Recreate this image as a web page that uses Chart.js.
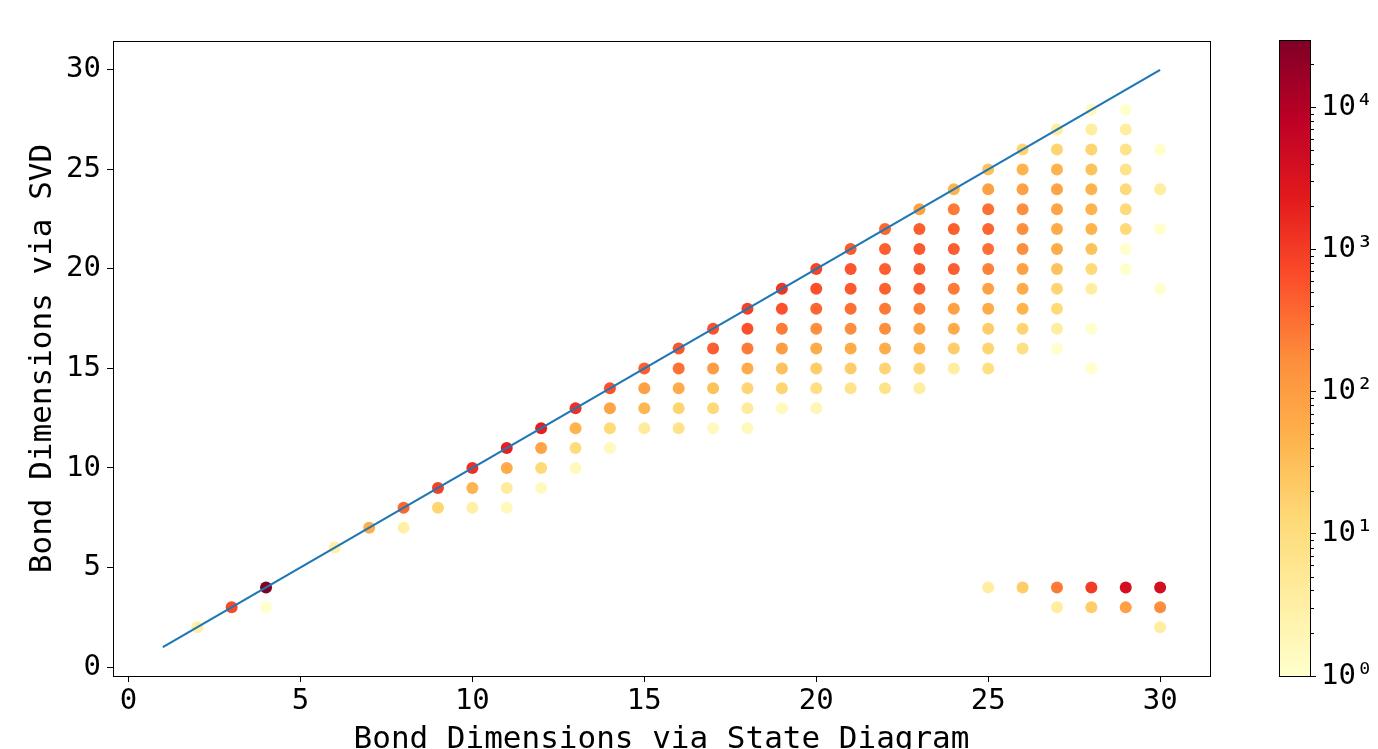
<!DOCTYPE html>
<html>
<head>
<meta charset="utf-8">
<script src="https://cdn.jsdelivr.net/npm/chart.js@4.4.1/dist/chart.umd.min.js"></script>
<style>
  body { margin: 0; background: #fff; }
  #wrap { position: relative; width: 1378px; height: 749px; overflow: hidden; }
  #main { position: absolute; left: 0; top: 0; }
  #cbar { position: absolute; left: 1279px; top: 0; }
</style>
</head>
<body>
<div id="wrap">
  <canvas id="main" width="1378" height="749"></canvas>
  <canvas id="cbar" width="99" height="749"></canvas>
</div>
<script>
// bond dimension via state diagram (x), via SVD (y), and how often each pair occurs
const sdDim = [
  2, 3, 4, 4, 6, 7, 8, 8, 9, 9,
  10, 10, 10, 11, 11, 11, 11, 12, 12, 12, 12,
  13, 13, 13, 13, 14, 14, 14, 14, 15, 15, 15, 15,
  16, 16, 16, 16, 16, 17, 17, 17, 17, 17, 17,
  18, 18, 18, 18, 18, 18, 18, 19, 19, 19, 19, 19, 19, 19,
  20, 20, 20, 20, 20, 20, 20, 20, 21, 21, 21, 21, 21, 21, 21, 21,
  22, 22, 22, 22, 22, 22, 22, 22, 22,
  23, 23, 23, 23, 23, 23, 23, 23, 23, 23,
  24, 24, 24, 24, 24, 24, 24, 24, 24, 24,
  25, 25, 25, 25, 25, 25, 25, 25, 25, 25, 25,
  26, 26, 26, 26, 26, 26, 26, 26, 26, 26, 26,
  27, 27, 27, 27, 27, 27, 27, 27, 27, 27, 27, 27,
  28, 28, 28, 28, 28, 28, 28, 28, 28, 28, 28, 28,
  29, 29, 29, 29, 29, 29, 29, 29, 29,
  30, 30, 30, 30,
  25, 26, 27, 27, 28, 28, 29, 29, 30, 30, 30
];
const svdDim = [
  2, 3, 4, 3, 6, 7, 8, 7, 9, 8,
  10, 9, 8, 11, 10, 9, 8, 12, 11, 10, 9,
  13, 12, 11, 10, 14, 13, 12, 11, 15, 14, 13, 12,
  16, 15, 14, 13, 12, 17, 16, 15, 14, 13, 12,
  18, 17, 16, 15, 14, 13, 12, 19, 18, 17, 16, 15, 14, 13,
  20, 19, 18, 17, 16, 15, 14, 13, 21, 20, 19, 18, 17, 16, 15, 14,
  22, 21, 20, 19, 18, 17, 16, 15, 14,
  23, 22, 21, 20, 19, 18, 17, 16, 15, 14,
  24, 23, 22, 21, 20, 19, 18, 17, 16, 15,
  25, 24, 23, 22, 21, 20, 19, 18, 17, 16, 15,
  26, 25, 24, 23, 22, 21, 20, 19, 18, 17, 16,
  27, 26, 25, 24, 23, 22, 21, 20, 19, 18, 17, 16,
  28, 27, 26, 25, 24, 23, 22, 21, 20, 19, 17, 15,
  28, 27, 26, 25, 24, 23, 22, 21, 20,
  26, 24, 22, 19,
  4, 4, 4, 3, 4, 3, 4, 3, 4, 3, 2
];
const counts = [
  3, 700, 29600, 1, 3, 55, 380, 3, 900, 15,
  1300, 45, 3, 2000, 60, 4, 1.5, 2000, 80, 12, 1.5,
  1300, 46, 11, 1.5, 600, 80, 12, 1.5, 450, 90, 40, 4,
  550, 300, 60, 15, 7, 600, 450, 100, 28, 12, 1.5,
  900, 600, 250, 60, 15, 4, 1.5, 1200, 600, 250, 100, 28, 15, 1.5,
  800, 600, 380, 160, 60, 20, 9, 2, 500, 550, 500, 320, 164, 60, 20, 7,
  380, 430, 450, 430, 260, 164, 60, 15, 7,
  90, 440, 500, 500, 440, 220, 90, 46, 15, 3.6,
  46, 260, 440, 440, 440, 260, 90, 60, 20, 3.6,
  28, 90, 320, 380, 320, 220, 90, 60, 20, 15, 9,
  15, 46, 90, 164, 164, 164, 90, 60, 46, 15, 9,
  3.6, 15, 46, 80, 80, 60, 60, 28, 15, 12, 3.6, 1,
  1.5, 3.6, 15, 28, 46, 46, 46, 28, 12, 3.6, 1, 1,
  1, 3.6, 7, 7, 12, 12, 12, 1, 1,
  1, 3.6, 1, 1,
  3.6, 20, 260, 3.6, 1000, 20, 4000, 90, 4000, 164, 3.6
];
const diagX = [1, 30];
const diagY = [1, 30];
const axisTicks = [0, 5, 10, 15, 20, 25, 30];
const cbarTicks = [1, 10, 100, 1000, 10000];
const cbarMin = 1;
const cbarMax = 29600;

const ylOrRd = ['#ffffcc', '#ffeda0', '#fed976', '#feb24c', '#fd8d3c', '#fc4e2a', '#e31a1c', '#bd0026', '#800026'];

function hexRgb(h) {
  return [parseInt(h.slice(1, 3), 16), parseInt(h.slice(3, 5), 16), parseInt(h.slice(5, 7), 16)];
}
function cmap(t) {
  t = Math.max(0, Math.min(1, t));
  const pos = t * (ylOrRd.length - 1);
  const i = Math.min(Math.floor(pos), ylOrRd.length - 2);
  const f = pos - i;
  const a = hexRgb(ylOrRd[i]), b = hexRgb(ylOrRd[i + 1]);
  const c = a.map((v, k) => Math.round(v + (b[k] - v) * f));
  return 'rgb(' + c.join(',') + ')';
}
function norm(v) {
  return (Math.log10(v) - Math.log10(cbarMin)) / (Math.log10(cbarMax) - Math.log10(cbarMin));
}

Chart.defaults.font.family = "'DejaVu Sans Mono', monospace";
Chart.defaults.color = '#000';

const points = sdDim.map((x, i) => ({ x: x, y: svdDim[i] }));
const pointColors = counts.map(c => cmap(norm(c)));

const frame = {
  id: 'frame',
  afterDraw(chart) {
    const { ctx, chartArea: a } = chart;
    ctx.save();
    ctx.strokeStyle = '#000';
    ctx.lineWidth = 1;
    ctx.strokeRect(Math.round(a.left) + 0.5, Math.round(a.top) + 0.5, Math.round(a.right - a.left), Math.round(a.bottom - a.top));
    ctx.restore();
  }
};

const tickFont = { size: 29 };
const labelFont = { size: 31, lineHeight: 1 };

new Chart(document.getElementById('main'), {
  type: 'scatter',
  data: {
    datasets: [
      {
        type: 'line',
        data: diagX.map((x, i) => ({ x: x, y: diagY[i] })),
        borderColor: '#1f77b4',
        borderWidth: 2.2,
        pointRadius: 0,
        fill: false
      },
      {
        data: points,
        pointRadius: 6,
        pointBackgroundColor: pointColors,
        pointBorderWidth: 0,
        borderWidth: 0
      }
    ]
  },
  options: {
    responsive: false,
    animation: false,
    layout: { padding: { left: 0, top: 41, right: 168, bottom: 0 } },
    plugins: { legend: { display: false }, tooltip: { enabled: false } },
    scales: {
      x: {
        type: 'linear',
        min: -0.45,
        max: 31.45,
        afterBuildTicks: s => { s.ticks = axisTicks.map(v => ({ value: v })); },
        afterFit: s => { s.height = 73; },
        grid: { drawOnChartArea: false, tickLength: 6, color: '#000' },
        border: { color: '#000' },
        ticks: { font: tickFont, padding: 2, maxRotation: 0, callback: v => String(v) },
        title: { display: true, text: 'Bond Dimensions via State Diagram', font: labelFont, padding: { bottom: -6 } }
      },
      y: {
        type: 'linear',
        min: -0.45,
        max: 31.45,
        afterBuildTicks: s => { s.ticks = axisTicks.map(v => ({ value: v })); },
        afterFit: s => { s.width = 113; },
        grid: { drawOnChartArea: false, tickLength: 6, color: '#000' },
        border: { color: '#000' },
        ticks: { font: tickFont, padding: 6, callback: v => String(v) },
        title: { display: true, text: 'Bond Dimensions via SVD', font: labelFont, padding: { top: 27 } }
      }
    }
  },
  plugins: [frame]
});

const sup = ['\u2070', '\u00b9', '\u00b2', '\u00b3', '\u2074'];

const cbarPaint = {
  id: 'cbarPaint',
  beforeDatasetsDraw(chart) {
    const { ctx, chartArea: a } = chart;
    const g = ctx.createLinearGradient(0, a.bottom, 0, a.top);
    for (let i = 0; i <= 64; i++) g.addColorStop(i / 64, cmap(i / 64));
    ctx.save();
    ctx.fillStyle = g;
    ctx.fillRect(a.left, a.top, a.right - a.left, a.bottom - a.top);
    ctx.restore();
  },
  afterDraw(chart) {
    const { ctx, chartArea: a } = chart;
    const s = chart.scales.y;
    ctx.save();
    ctx.strokeStyle = '#000';
    ctx.lineWidth = 1;
    // minor ticks
    for (let d = 1; d <= 10000; d *= 10) {
      for (let m = 2; m <= 9; m++) {
        const v = d * m;
        if (v > cbarMax) break;
        const y = Math.round(s.getPixelForValue(v)) + 0.5;
        ctx.beginPath();
        ctx.moveTo(a.right, y);
        ctx.lineTo(a.right + 3, y);
        ctx.stroke();
      }
    }
    ctx.strokeRect(Math.round(a.left) + 0.5, Math.round(a.top) + 0.5, Math.round(a.right - a.left) - 1, Math.round(a.bottom - a.top));
    ctx.restore();
  }
};

new Chart(document.getElementById('cbar'), {
  type: 'scatter',
  data: { datasets: [] },
  options: {
    responsive: false,
    animation: false,
    layout: { padding: { left: 0, top: 40, right: 0, bottom: 73 } },
    plugins: { legend: { display: false }, tooltip: { enabled: false } },
    scales: {
      x: { display: false },
      y: {
        type: 'logarithmic',
        position: 'right',
        min: cbarMin,
        max: cbarMax,
        afterBuildTicks: s => { s.ticks = cbarTicks.map(v => ({ value: v })); },
        afterFit: s => { s.width = 67; },
        grid: { drawOnChartArea: false, tickLength: 5, color: '#000' },
        border: { display: false },
        ticks: { font: tickFont, padding: 5, callback: v => '10' + sup[Math.round(Math.log10(v))] }
      }
    }
  },
  plugins: [cbarPaint]
});
</script>
</body>
</html>
